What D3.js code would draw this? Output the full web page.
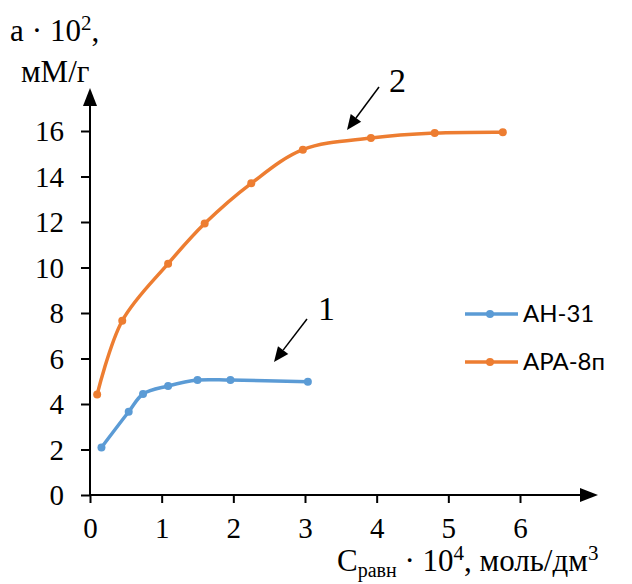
<!DOCTYPE html>
<html>
<head>
<meta charset="utf-8">
<script src="https://cdn.jsdelivr.net/npm/d3@7"></script>
<style>
  html, body { margin: 0; padding: 0; background: #fff; }
  svg { display: block; }
</style>
</head>
<body>
<svg id="chart" width="632" height="584"></svg>
<script>
// Equilibrium concentration, C·10^4 mol/dm^3, and sorption capacity a·10^2 mM/g
const an31X = [0.16, 0.54, 0.74, 1.09, 1.50, 1.96, 3.04];
const an31Y = [2.09, 3.66, 4.44, 4.79, 5.05, 5.05, 4.98];
const ara8X = [0.10, 0.45, 1.09, 1.60, 2.25, 2.97, 3.92, 4.81, 5.76];
const ara8Y = [4.42, 7.66, 10.17, 11.93, 13.70, 15.18, 15.69, 15.91, 15.95];

const seriesNames = ["АН-31", "АРА-8п"];
const seriesColors = ["#5B9BD5", "#ED7D31"];
const xTicks = [0, 1, 2, 3, 4, 5, 6];
const yTicks = [0, 2, 4, 6, 8, 10, 12, 14, 16];

const svg = d3.select("#chart");
const x = d3.scaleLinear().domain([0, 6]).range([90, 520]);
const y = d3.scaleLinear().domain([0, 16]).range([495, 131]);

const serif = "'Liberation Serif', 'Times New Roman', serif";

// Axes
const xAxis = svg.append("g")
  .attr("transform", `translate(0,${y(0)})`)
  .call(d3.axisBottom(x).tickValues(xTicks).tickFormat(d3.format("d")).tickSize(8).tickSizeOuter(0));
xAxis.selectAll(".tick text").attr("y", 43).attr("dy", 0);

const yAxis = svg.append("g")
  .attr("transform", `translate(${x(0)},0)`)
  .call(d3.axisLeft(y).tickValues(yTicks).tickFormat(d3.format("d")).tickSize(9).tickPadding(17).tickSizeOuter(0));
yAxis.selectAll(".tick text").attr("dy", "0.34em");

[xAxis, yAxis].forEach(g => {
  g.select(".domain").remove();
  g.selectAll("line").attr("stroke", "#000").attr("stroke-width", 2);
  g.selectAll("text").attr("fill", "#000").style("font-family", serif).style("font-size", "29px");
});

// Axis lines with arrowheads
svg.append("line").attr("x1", x(0)).attr("x2", 586).attr("y1", y(0)).attr("y2", y(0))
  .attr("stroke", "#000").attr("stroke-width", 2);
svg.append("line").attr("x1", x(0)).attr("x2", x(0)).attr("y1", y(0)).attr("y2", 100)
  .attr("stroke", "#000").attr("stroke-width", 2);
svg.append("path").attr("d", `M598,${y(0)} L580,${y(0) - 7} L580,${y(0) + 7} Z`).attr("fill", "#000");
svg.append("path").attr("d", `M${x(0)},88 L${x(0) - 7},106 L${x(0) + 7},106 Z`).attr("fill", "#000");

// Series
const data = [
  an31X.map((v, i) => [v, an31Y[i]]),
  ara8X.map((v, i) => [v, ara8Y[i]])
];
const line = d3.line().x(d => x(d[0])).y(d => y(d[1])).curve(d3.curveCatmullRom.alpha(0.5));

data.forEach((pts, i) => {
  svg.append("path").attr("d", line(pts))
    .attr("fill", "none").attr("stroke", seriesColors[i])
    .attr("stroke-width", 3.5).attr("stroke-linejoin", "round").attr("stroke-linecap", "round");
  svg.append("g").selectAll("circle").data(pts).join("circle")
    .attr("cx", d => x(d[0])).attr("cy", d => y(d[1])).attr("r", 4)
    .attr("fill", seriesColors[i]);
});

// Legend
const legend = svg.append("g");
seriesNames.forEach((name, i) => {
  const ly = 314 + i * 48;
  legend.append("line").attr("x1", 465).attr("x2", 518).attr("y1", ly).attr("y2", ly)
    .attr("stroke", seriesColors[i]).attr("stroke-width", 3.5);
  legend.append("circle").attr("cx", 490).attr("cy", ly).attr("r", 4).attr("fill", seriesColors[i]);
  legend.append("text").attr("x", 523).attr("y", ly + 8)
    .style("font-family", "Lato, 'Open Sans', sans-serif").style("font-size", "24px")
    .attr("fill", "#000").text(name);
});

// Curve callouts
function callout(x1, y1, x2, y2, label, lx, ly) {
  const ang = Math.atan2(y2 - y1, x2 - x1);
  const len = 15, half = 6.5;
  const bx = x2 - len * Math.cos(ang), by = y2 - len * Math.sin(ang);
  svg.append("line").attr("x1", x1).attr("y1", y1).attr("x2", bx).attr("y2", by)
    .attr("stroke", "#000").attr("stroke-width", 1.5);
  svg.append("path").attr("fill", "#000").attr("d",
    `M${x2},${y2} L${bx - half * Math.sin(ang)},${by + half * Math.cos(ang)} L${bx + half * Math.sin(ang)},${by - half * Math.cos(ang)} Z`);
  svg.append("text").attr("x", lx).attr("y", ly)
    .style("font-family", serif).style("font-size", "34px").attr("fill", "#000").text(label);
}
callout(307, 319, 274, 362, "1", 318, 320);
callout(379, 87, 347, 130, "2", 389, 92);

// Axis titles
const yTitle = svg.append("text").attr("x", 10).attr("y", 41)
  .style("font-family", serif).style("font-size", "31px").attr("fill", "#000");
yTitle.append("tspan").text("а");
yTitle.append("tspan").attr("dx", 8).text("·");
yTitle.append("tspan").attr("dx", 8).text("10");
yTitle.append("tspan").attr("dy", -11).style("font-size", "21px").text("2");
yTitle.append("tspan").attr("dy", 11).text(",");
svg.append("text").attr("x", 21).attr("y", 82)
  .style("font-family", serif).style("font-size", "31px").attr("fill", "#000").text("мМ/г");

const xTitle = svg.append("text").attr("x", 337).attr("y", 571)
  .style("font-family", serif).style("font-size", "31px").attr("fill", "#000");
xTitle.append("tspan").text("С");
xTitle.append("tspan").attr("dy", 6).style("font-size", "20px").text("равн");
xTitle.append("tspan").attr("dy", -6).text(" · 10");
xTitle.append("tspan").attr("dy", -11).style("font-size", "21px").text("4");
xTitle.append("tspan").attr("dy", 11).text(", моль/дм");
xTitle.append("tspan").attr("dy", -11).style("font-size", "21px").text("3");
</script>
</body>
</html>
